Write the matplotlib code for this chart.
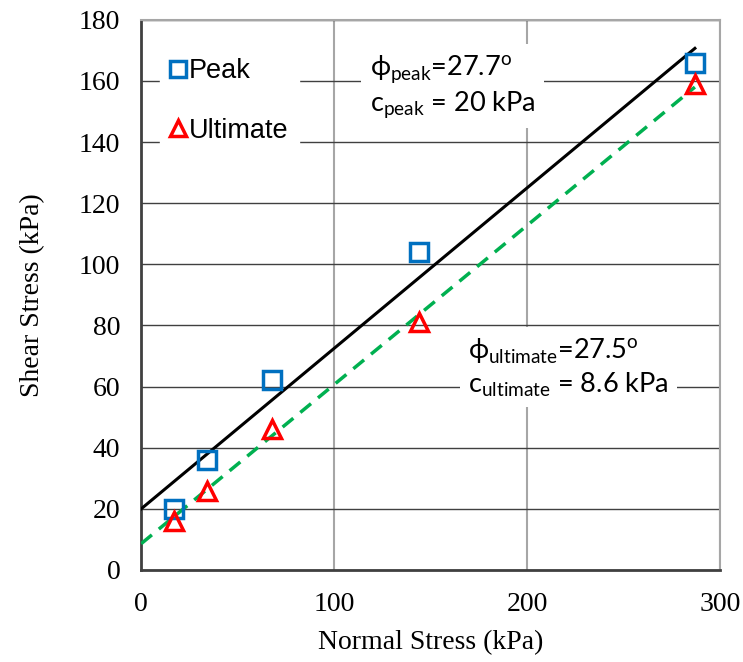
import numpy as np
import matplotlib
matplotlib.use('Agg')
import matplotlib.pyplot as plt

# test data
normal_stress = [17, 34, 68, 144, 287]
peak = [20, 36, 62, 104, 166]
ultimate = [16, 26, 46, 81, 159]

# Mohr-Coulomb fits
phi_peak, c_peak = 27.7, 20.0
phi_ult, c_ult = 27.5, 8.6
fit_x = [0, 287]

x_ticks = [0, 100, 200, 300]
y_ticks = [0, 20, 40, 60, 80, 100, 120, 140, 160, 180]


def main():
    fig = plt.figure(figsize=(7.43, 6.62), dpi=100)
    ax = fig.add_axes([0.19, 0.139, 0.779, 0.831])

    xs = np.array(fit_x, dtype=float)
    ax.plot(xs, c_peak + np.tan(np.radians(phi_peak)) * xs, color='black', lw=2.2, zorder=3)
    ax.plot(xs, c_ult + np.tan(np.radians(phi_ult)) * xs, color='#00B050', lw=2.5,
            ls=(0, (4, 2.6)), zorder=3)

    ax.plot(normal_stress, peak, ls='none', marker='s', ms=13, mfc='none',
            mec='#0070C0', mew=2.5, label='Peak', zorder=4)
    ax.plot(normal_stress, ultimate, ls='none', marker='^', ms=13, mfc='none',
            mec='#FF0000', mew=2.5, label='Ultimate', zorder=4)

    ax.set_xlim(0, 300)
    ax.set_ylim(0, 180)
    ax.set_xticks(x_ticks)
    ax.set_yticks(y_ticks)
    ax.tick_params(length=0, labelsize=20)
    ax.tick_params(axis='x', pad=16)
    ax.tick_params(axis='y', pad=15)
    for lab in ax.get_xticklabels() + ax.get_yticklabels():
        lab.set_family('Liberation Serif')

    ax.yaxis.grid(True, color='#404040', lw=1)
    ax.xaxis.grid(True, color='#A6A6A6', lw=1.5)
    ax.set_axisbelow(True)
    for s in ['left', 'bottom']:
        ax.spines[s].set_color('#404040')
        ax.spines[s].set_linewidth(2)
    for s in ['top', 'right']:
        ax.spines[s].set_color('#A6A6A6')
        ax.spines[s].set_linewidth(1.5)

    ax.set_xlabel('Normal Stress (kPa)', family='Liberation Serif', fontsize=20, labelpad=9)
    ax.set_ylabel('Shear Stress (kPa)', family='Liberation Serif', fontsize=20, labelpad=24)

    leg = ax.legend(loc='upper left', bbox_to_anchor=(0.01, 0.975), frameon=True,
                    prop={'family': 'Liberation Sans', 'size': 19.5}, handlelength=0.5,
                    handletextpad=0.15, labelspacing=1.25, borderpad=0.4, markerscale=0.85)
    leg.get_frame().set_edgecolor('white')
    leg.get_frame().set_alpha(1)
    leg.get_frame().set_boxstyle('square', pad=0)

    box = dict(facecolor='white', edgecolor='none', pad=6)
    ax.text(0.395, 0.94, 'ϕ$_\\mathregular{peak}$=27.7$^\\mathregular{o}$\nc$_\\mathregular{peak}$ = 20 kPa',
            transform=ax.transAxes, fontsize=19.5, family=['Lato', 'DejaVu Sans'],
            va='top', ha='left', linespacing=1.2, bbox=box, zorder=5)
    ax.text(0.565, 0.425, 'ϕ$_\\mathregular{ultimate}$=27.5$^\\mathregular{o}$\nc$_\\mathregular{ultimate}$ = 8.6 kPa',
            transform=ax.transAxes, fontsize=19.5, family=['Lato', 'DejaVu Sans'],
            va='top', ha='left', linespacing=1.2, bbox=box, zorder=5)

    fig.savefig('out.png', dpi=100)


if __name__ == '__main__':
    main()
